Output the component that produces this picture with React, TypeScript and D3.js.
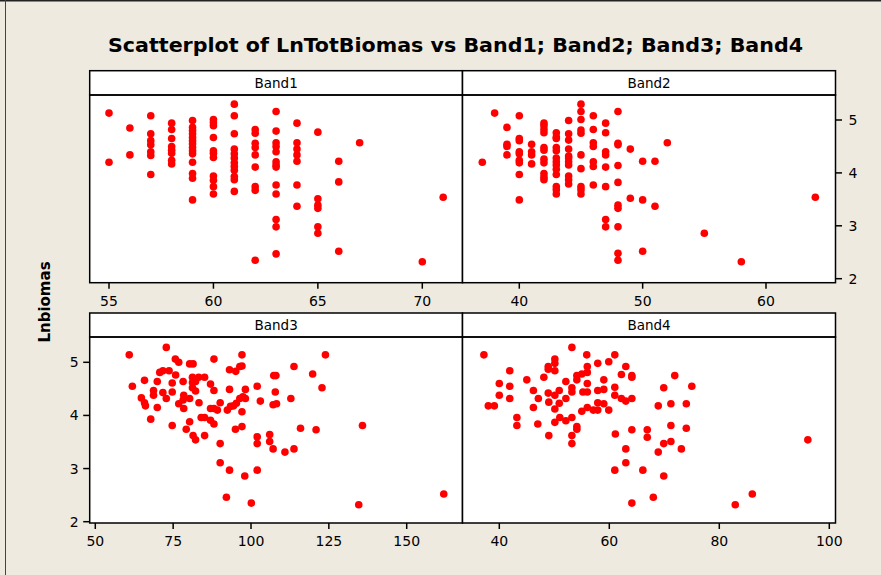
import React from 'react';
import * as d3 from 'd3';

const titleText = 'Scatterplot of LnTotBiomas vs Band1; Band2; Band3; Band4';
const yAxisTitle = 'Lnbiomas';
const panelTitles = ['Band1', 'Band2', 'Band3', 'Band4'];

const yTicks = [2, 3, 4, 5];
const band1Ticks = [55, 60, 65, 70];
const band2Ticks = [40, 50, 60];
const band3Ticks = [50, 75, 100, 125, 150];
const band4Ticks = [40, 60, 80, 100];

const band1Points: [number, number][] = [
  [55, 5.13], [55, 4.2],
  [56, 4.85], [56, 4.34],
  [57, 5.08], [57, 4.74], [57, 4.61], [57, 4.53], [57, 4.4], [57, 4.33], [57, 3.97],
  [58, 4.94], [58, 4.82], [58, 4.65], [58, 4.5], [58, 4.43], [58, 4.37], [58, 4.24], [58, 4.17],
  [59, 4.99], [59, 4.86], [59, 4.8], [59, 4.74], [59, 4.67], [59, 4.61], [59, 4.55], [59, 4.48],
  [59, 4.42], [59, 4.36], [59, 4.2], [59, 3.99], [59, 3.9], [59, 3.49],
  [60, 5.01], [60, 4.95], [60, 4.89], [60, 4.67], [60, 4.42], [60, 4.37], [60, 4.29], [60, 3.94],
  [60, 3.86], [60, 3.74], [60, 3.6],
  [61, 5.3], [61, 5.08], [61, 4.74], [61, 4.45], [61, 4.36], [61, 4.28], [61, 4.19], [61, 4.12],
  [61, 4.05], [61, 3.93], [61, 3.87], [61, 3.65],
  [62, 4.82], [62, 4.75], [62, 4.56], [62, 4.48], [62, 4.34], [62, 4.11], [62, 3.74], [62, 3.67], [62, 2.35],
  [63, 5.16], [63, 4.79], [63, 4.57], [63, 4.5], [63, 4.4], [63, 4.21], [63, 4.15], [63, 4.11],
  [63, 3.77], [63, 3.6], [63, 3.12], [63, 2.98], [63, 2.47],
  [64, 4.94], [64, 4.57], [64, 4.45], [64, 4.34], [64, 4.22], [64, 3.77], [64, 3.37],
  [65, 4.77], [65, 3.51], [65, 3.39], [65, 3.33], [65, 2.98], [65, 2.86],
  [66, 4.22], [66, 3.83], [66, 2.52],
  [67, 4.57],
  [70, 2.32],
  [71, 3.54],
];

const band2Points: [number, number][] = [
  [37, 4.2],
  [38, 5.13],
  [39, 4.86], [39, 4.54], [39, 4.5], [39, 4.34],
  [40, 5.08], [40, 4.65], [40, 4.61], [40, 4.4], [40, 4.36], [40, 4.24], [40, 4.19], [40, 3.97], [40, 3.49],
  [41, 4.54], [41, 4.4], [41, 4.34], [41, 4.17],
  [42, 4.94], [42, 4.89], [42, 4.82], [42, 4.76], [42, 4.48], [42, 4.43], [42, 4.26], [42, 4.19],
  [42, 3.99], [42, 3.92], [42, 3.87],
  [43, 4.76], [43, 4.68], [43, 4.65], [43, 4.48], [43, 4.42], [43, 4.28], [43, 4.21], [43, 4.15],
  [43, 4.07], [43, 3.97], [43, 3.74], [43, 3.68], [43, 3.6],
  [44, 4.99], [44, 4.74], [44, 4.62], [44, 4.45], [44, 4.32], [44, 4.28], [44, 4.21], [44, 4.15],
  [44, 3.94], [44, 3.87], [44, 3.79],
  [45, 5.3], [45, 5.16], [45, 5.01], [45, 4.81], [45, 4.75], [45, 4.34], [45, 4.08], [45, 3.74], [45, 3.68], [45, 3.6],
  [46, 5.08], [46, 4.82], [46, 4.57], [46, 4.5], [46, 4.21], [46, 4.12], [46, 3.77],
  [47, 4.94], [47, 4.76], [47, 4.4], [47, 4.34], [47, 4.11], [47, 3.74], [47, 3.12], [47, 2.98],
  [48, 5.16], [48, 4.56], [48, 4.53], [48, 4.14], [48, 3.82], [48, 3.39], [48, 3.33], [48, 2.98], [48, 2.48], [48, 2.35],
  [49, 4.45], [49, 3.52],
  [50, 4.22], [50, 3.49], [50, 2.52],
  [51, 4.22], [51, 3.37],
  [52, 4.57],
  [55, 2.86],
  [58, 2.32],
  [64, 3.54],
];

const band3Points: [number, number][] = [
  [60.9, 5.14], [72.8, 5.28], [75.7, 5.06], [76.8, 5.0], [80.3, 4.97], [81.4, 4.97], [88.1, 5.06],
  [97.1, 5.14], [96.4, 4.92], [97.1, 4.93], [93.1, 4.86], [95.1, 4.83], [70.7, 4.81], [71.7, 4.84],
  [73.7, 4.84], [75.8, 4.76], [65.8, 4.66], [69.9, 4.64], [74.7, 4.61], [78.2, 4.64], [81.2, 4.72],
  [83.2, 4.72], [85.1, 4.72], [81.2, 4.62], [82.2, 4.64], [87.0, 4.59], [88.1, 4.47], [93.1, 4.49],
  [98.2, 4.49], [102.0, 4.55], [107.3, 4.75], [108.0, 4.75], [107.8, 4.44], [61.9, 4.55], [68.7, 4.47],
  [68.7, 4.38], [71.7, 4.43], [72.8, 4.32], [74.7, 4.44], [78.4, 4.38], [78.2, 4.29], [80.3, 4.32],
  [82.2, 4.46], [81.2, 4.52], [64.8, 4.33], [65.8, 4.24], [66.1, 4.18], [69.9, 4.15], [76.8, 4.22],
  [78.4, 4.13], [83.3, 4.24], [90.1, 4.24], [87.0, 4.13], [88.1, 4.13], [89.2, 4.1], [92.4, 4.1],
  [93.4, 4.17], [94.4, 4.18], [95.3, 4.23], [96.4, 4.32], [97.4, 4.35], [98.2, 4.32], [97.1, 4.07],
  [103.0, 4.27], [107.1, 4.2], [108.2, 4.22], [67.8, 3.93], [74.7, 3.81], [79.2, 3.74], [80.3, 3.88],
  [84.0, 3.96], [85.1, 3.96], [87.0, 3.91], [88.1, 3.84], [85.1, 3.62], [81.4, 3.62], [82.2, 3.54],
  [90.1, 3.47], [95.0, 3.74], [97.1, 3.79], [102.0, 3.6], [102.0, 3.47], [106.0, 3.64], [106.0, 3.51],
  [107.1, 3.37], [90.1, 3.11], [93.1, 2.97], [98.0, 2.86], [102.0, 2.97], [92.1, 2.46], [100.1, 2.35],
  [123.9, 5.14], [113.8, 4.92], [119.8, 4.78], [122.8, 4.52], [112.8, 4.32], [115.9, 3.76],
  [120.9, 3.73], [135.8, 3.81], [110.9, 3.31], [113.8, 3.37], [134.6, 2.32], [161.9, 2.52],
];

const band4Points: [number, number][] = [
  [37.2, 5.14], [41.9, 4.84], [40.0, 4.6], [41.9, 4.55], [40.0, 4.38], [41.9, 4.32], [38.0, 4.18],
  [39.1, 4.18], [43.2, 3.96], [43.2, 3.81], [45.0, 4.67], [46.2, 4.47], [47.1, 4.32], [46.2, 4.15],
  [47.0, 3.84], [48.1, 4.72], [48.9, 4.92], [48.9, 4.87], [50.1, 5.06], [50.1, 4.98], [50.1, 4.84],
  [48.9, 4.42], [50.1, 4.38], [50.9, 4.47], [49.0, 4.25], [50.1, 4.12], [50.9, 4.23], [52.1, 4.64],
  [52.1, 4.32], [53.2, 5.28], [53.2, 4.52], [53.2, 4.44], [54.1, 4.75], [54.1, 4.67], [55.0, 4.78],
  [55.9, 5.14], [56.0, 4.92], [56.0, 4.81], [56.0, 4.6], [56.0, 4.44], [55.2, 4.44], [57.9, 4.98],
  [59.9, 5.01], [61.0, 5.14], [57.9, 4.47], [59.0, 4.67], [59.0, 4.49], [61.0, 4.53], [61.0, 4.38],
  [62.2, 4.77], [63.0, 4.92], [64.1, 4.75], [64.1, 4.72], [62.2, 4.32], [63.0, 4.27], [64.1, 4.32],
  [51.0, 3.96], [52.1, 3.9], [53.2, 3.96], [50.1, 3.87], [54.1, 3.79], [54.1, 3.74], [53.2, 3.62],
  [53.2, 3.47], [49.0, 3.62], [55.0, 4.08], [56.0, 4.15], [57.1, 4.1], [57.9, 4.24], [57.9, 4.1],
  [59.0, 4.22], [59.9, 4.1], [61.1, 3.65], [64.1, 3.73], [66.9, 3.73], [66.9, 3.59], [63.0, 3.37],
  [63.0, 3.11], [61.0, 2.97], [66.1, 2.97], [64.1, 2.35],
  [71.9, 4.75], [69.9, 4.52], [75.0, 4.55], [68.9, 4.18], [71.2, 4.22], [74.0, 4.22], [71.2, 3.81],
  [74.0, 3.76], [69.9, 3.47], [71.2, 3.51], [68.9, 3.31], [73.1, 3.37], [69.9, 2.86], [68.0, 2.46],
  [82.9, 2.32], [86.0, 2.52], [96.1, 3.54],
];

const W = 881;
const H = 575;
const FONT = '"DejaVu Sans", Verdana, sans-serif';
const TITLE_FONT = '"DejaVu Sans Condensed", "DejaVu Sans", Verdana, sans-serif';

const colL = [89.7, 462.5];
const colR = [462.5, 835.5];
const rows = [
  { stripTop: 70.7, plotTop: 95, plotBottom: 282.7, y5: 120, y2: 278.7 },
  { stripTop: 313, plotTop: 337, plotBottom: 523, y5: 362.3, y2: 521.7 },
];

const panels = [
  { title: panelTitles[0], points: band1Points, ticks: band1Ticks, row: 0, col: 0, d: [55, 70], r: [109, 422.3] },
  { title: panelTitles[1], points: band2Points, ticks: band2Ticks, row: 0, col: 1, d: [40, 60], r: [519.3, 766] },
  { title: panelTitles[2], points: band3Points, ticks: band3Ticks, row: 1, col: 0, d: [50, 150], r: [95.3, 406.7] },
  { title: panelTitles[3], points: band4Points, ticks: band4Ticks, row: 1, col: 1, d: [40, 100], r: [499.3, 829.3] },
];

export default function App() {
  const yScales = rows.map((rw) => d3.scaleLinear().domain([2, 5]).range([rw.y2, rw.y5]));
  return (
    <svg width={W} height={H} style={{ position: 'absolute', left: 0, top: 0, display: 'block' }}
      fontFamily={FONT}>
      <rect x={0} y={0} width={W} height={H} fill="#EEEAE0" />
      <line x1={0} x2={W} y1={0.75} y2={0.75} stroke="#222" strokeWidth={1.5} />
      <line x1={5.5} x2={5.5} y1={0} y2={H} stroke="#444" strokeWidth={1} />
      <text x={455.5} y={52} textAnchor="middle" fontSize={19} fontWeight="bold" fill="#000"
        fontFamily={TITLE_FONT}
        textLength={695} lengthAdjust="spacingAndGlyphs">{titleText}</text>
      <text transform="translate(50,302) rotate(-90)" textAnchor="middle" fontSize={15}
        fontWeight="bold" fill="#000">{yAxisTitle}</text>

      {panels.map((p, i) => {
        const rw = rows[p.row];
        const x0 = colL[p.col];
        const x1 = colR[p.col];
        const xs = d3.scaleLinear().domain(p.d).range(p.r);
        const ys = yScales[p.row];
        return (
          <g key={i}>
            <rect x={x0} y={rw.plotTop} width={x1 - x0} height={rw.plotBottom - rw.plotTop}
              fill="#fff" />
            <rect x={x0} y={rw.stripTop} width={x1 - x0} height={rw.plotTop - rw.stripTop}
              fill="#fff" stroke="#000" strokeWidth={1.5} />
            <text x={(x0 + x1) / 2} y={rw.stripTop + 17} textAnchor="middle" fontSize={13.5}
              fill="#000">{p.title}</text>
            {p.points.map((pt, j) => (
              <circle key={j} cx={xs(pt[0])} cy={ys(pt[1])} r={3.8} fill="#FF0000" />
            ))}
            <rect x={x0} y={rw.plotTop} width={x1 - x0} height={rw.plotBottom - rw.plotTop}
              fill="none" stroke="#000" strokeWidth={1.5} />
            {p.ticks.map((t) => (
              <g key={t}>
                <line x1={xs(t)} x2={xs(t)} y1={rw.plotBottom} y2={rw.plotBottom + 6}
                  stroke="#000" strokeWidth={1.5} />
                <text x={xs(t)} y={rw.plotBottom + 23} textAnchor="middle" fontSize={14}
                  fill="#000">{t}</text>
              </g>
            ))}
          </g>
        );
      })}

      {yTicks.map((t) => (
        <g key={'r' + t}>
          <line x1={colR[1]} x2={colR[1] + 6.5} y1={yScales[0](t)} y2={yScales[0](t)}
            stroke="#000" strokeWidth={1.5} />
          <text x={colR[1] + 13} y={yScales[0](t) + 5} fontSize={14} fill="#000">{t}</text>
        </g>
      ))}
      {yTicks.map((t) => (
        <g key={'l' + t}>
          <line x1={colL[0] - 6.5} x2={colL[0]} y1={yScales[1](t)} y2={yScales[1](t)}
            stroke="#000" strokeWidth={1.5} />
          <text x={colL[0] - 11} y={yScales[1](t) + 5} textAnchor="end" fontSize={14}
            fill="#000">{t}</text>
        </g>
      ))}
    </svg>
  );
}
